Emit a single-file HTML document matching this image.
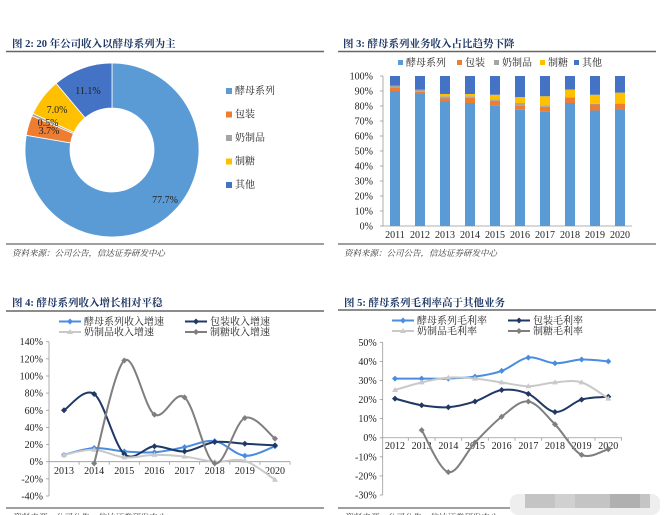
<!DOCTYPE html>
<html><head><meta charset="utf-8">
<style>
html,body{margin:0;padding:0;background:#fff;width:670px;height:515px;overflow:hidden}
svg{display:block;font-family:"Liberation Serif","Noto Serif CJK SC",serif}
</style></head>
<body>
<svg id="s" width="670" height="515" viewBox="0 0 670 515" xmlns="http://www.w3.org/2000/svg">
<g>
<text x="12" y="47" font-size="10.5" font-weight="bold" fill="#1f3864">图 2:  20 年公司收入以酵母系列为主</text>
<line x1="6" y1="51.5" x2="324" y2="51.5" stroke="#666" stroke-width="1.5"/>
<line x1="6" y1="244" x2="324" y2="244" stroke="#666" stroke-width="1.2"/>
<text x="12" y="256" font-size="8.5" font-style="italic" fill="#333">资料来源：公司公告，信达证券研发中心</text>
</g>
<g>
<text x="343" y="47" font-size="10.5" font-weight="bold" fill="#1f3864">图 3:  酵母系列业务收入占比趋势下降</text>
<line x1="338" y1="51.5" x2="656" y2="51.5" stroke="#666" stroke-width="1.5"/>
<line x1="338" y1="244" x2="656" y2="244" stroke="#666" stroke-width="1.2"/>
<text x="344" y="256" font-size="8.5" font-style="italic" fill="#333">资料来源：公司公告，信达证券研发中心</text>
</g>
<g>
<text x="12" y="306" font-size="10.5" font-weight="bold" fill="#1f3864">图 4:  酵母系列收入增长相对平稳</text>
<line x1="6" y1="311" x2="324" y2="311" stroke="#666" stroke-width="1.5"/>
<line x1="6" y1="508" x2="324" y2="508" stroke="#666" stroke-width="1.2"/>
<text x="12" y="520" font-size="8.5" font-style="italic" fill="#333">资料来源：公司公告，信达证券研发中心</text>
</g>
<g>
<text x="344" y="306" font-size="10.5" font-weight="bold" fill="#1f3864">图 5:  酵母系列毛利率高于其他业务</text>
<line x1="338" y1="310" x2="656" y2="310" stroke="#666" stroke-width="1.5"/>
<line x1="338" y1="508" x2="510" y2="508" stroke="#666" stroke-width="1.2"/>
<text x="344" y="520" font-size="8.5" font-style="italic" fill="#333">资料来源：公司公告，信达证券研发中心</text>
</g>
<g>
<rect x="510" y="494" width="150" height="21" rx="8" fill="#eee"/>
<rect x="525" y="494" width="125" height="14" fill="#c4c4c4"/>
<rect x="555" y="494" width="20" height="14" fill="#d0d0d0"/>
<rect x="610" y="494" width="30" height="14" fill="#b0b0b0"/>
</g>
</svg>
<script>
// ---------- data ----------
const pieLabels = ["酵母系列","包装","奶制品","制糖","其他"];
const pieValues = [77.7,3.7,0.5,7.0,11.1];
const colors5 = ["#5b9bd5","#ed7d31","#a5a5a5","#ffc000","#4472c4"];

const barYears = ["2011","2012","2013","2014","2015","2016","2017","2018","2019","2020"];
const barYeast = [90,88,83,82,80.5,77.5,76.5,82,77,77.7];
const barPack  = [2.5,1.5,2,3.5,3,3,3,3.5,4,3.7];
const barDairy = [1,1.5,1.5,1,1,1.5,1,0.5,0.5,0.5];
const barSugar = [0,0,1.5,1.5,3,4,6,5,6,7];
const barOther = [6.5,9,12,12,12.5,14,13.5,9,12.5,11.1];
const barTicks = ["0%","10%","20%","30%","40%","50%","60%","70%","80%","90%","100%"];

const g4Years = ["2013","2014","2015","2016","2017","2018","2019","2020"];
const g4Yeast = [8,16,12,11,17,24,7,18];
const g4Pack  = [60,79,9,18,12,23,21,19];
const g4Dairy = [8,14,5,8,6,0,1,-21];
const g4Sugar = [null,-2,118,55,75,-2,51,27];
const g4Ticks = [-40,-20,0,20,40,60,80,100,120,140];

const g5Years = ["2012","2013","2014","2015","2016","2017","2018","2019","2020"];
const g5Yeast = [31,31,31,32,35,42,39,41,40];
const g5Pack  = [20.5,17,16,19,25,23,13.5,20,21.5];
const g5Dairy = [25,29,31.5,31,29,27,29,29,20.5];
const g5Sugar = [null,4,-18,-2.5,11,19,7,-9,-6];
const g5Ticks = [-30,-20,-10,0,10,20,30,40,50];

// ---------- helpers ----------
const S = document.getElementById('s');
const NS = "http://www.w3.org/2000/svg";
function mk(tag, attrs, parent){
  const e = document.createElementNS(NS, tag);
  for (const k in attrs) e.setAttribute(k, attrs[k]);
  (parent||S).appendChild(e);
  return e;
}
function txt(x,y,s,size,anchor,parent,fill){
  const t = mk('text',{x:x,y:y,'font-size':size,'text-anchor':anchor||'start',fill:fill||'#111'},parent);
  t.textContent = s; return t;
}

// ---------- Fig 2: donut ----------
const pieG = mk('g',{});


const cx=112, cy=150, R=87, r=42;
const total = pieValues.reduce((a,b)=>a+b,0);
let acc=0;
pieValues.forEach((v,i)=>{
  const a0 = acc/total*2*Math.PI, a1=(acc+v)/total*2*Math.PI; acc+=v;
  const p=(a,rad)=>[cx+rad*Math.sin(a), cy-rad*Math.cos(a)];
  const [x0,y0]=p(a0,R),[x1,y1]=p(a1,R),[x2,y2]=p(a1,r),[x3,y3]=p(a0,r);
  const lg = (a1-a0)>Math.PI?1:0;
  const path = mk('path',{d:`M${x0},${y0}A${R},${R} 0 ${lg} 1 ${x1},${y1}L${x2},${y2}A${r},${r} 0 ${lg} 0 ${x3},${y3}Z`,fill:colors5[i],stroke:'#fff','stroke-width':0.8},pieG);
  
  
});
const pieLblPos=[[165,203],[49,134],[48,126],[57,113],[88,94]];
pieValues.forEach((v,i)=>{
  const t = txt(pieLblPos[i][0],pieLblPos[i][1],v.toFixed(1)+'%',10,'middle',pieG,'#222');
  
  
});
pieLabels.forEach((l,i)=>{
  const y=93+i*23.5;
  const lg = mk('g',{},pieG);
  
  
  mk('rect',{x:226,y:y-5,width:6,height:6,fill:colors5[i]},lg);
  txt(235,y+1,l,10,'start',lg,'#222');
});

// ---------- Fig 3: stacked bars ----------
const bG = mk('g',{});


const bx0=383, bx1=632, by0=226, by1=76;
const bY = v => by0 - v/100*(by0-by1);
const bX = i => 395 + i*(620-395)/(barYears.length-1);
mk('line',{x1:bx0,y1:by1,x2:bx0,y2:by0,stroke:'#999','stroke-width':0.8},bG);
mk('line',{x1:bx0,y1:by0,x2:bx1,y2:by0,stroke:'#999','stroke-width':0.8},bG);
barTicks.forEach((t,i)=>{
  const y=bY(i*10);
  mk('line',{x1:bx0-3,y1:y,x2:bx0,y2:y,stroke:'#999','stroke-width':0.8},bG);
  txt(373,y+3.5,t,10,'end',bG,'#222');
});
const series3=[barYeast,barPack,barDairy,barSugar,barOther];
barYears.forEach((yr,i)=>{
  let base=0;
  series3.forEach((s,k)=>{
    const v=s[i]; if(!v){return;}
    const rc = mk('rect',{x:bX(i)-5,y:bY(base+v),width:10,height:bY(base)-bY(base+v),fill:colors5[k]},bG);
    
    
    base+=v;
  });
  const lx = txt(bX(i),238,yr,10,'middle',bG,'#222');
  
  
});
const lg3x=[398,457,494,540,574];
pieLabels.forEach((l,i)=>{
  const g = mk('g',{},bG);
  
  
  mk('rect',{x:lg3x[i],y:60,width:5,height:5,fill:colors5[i]},g);
  txt(lg3x[i]+8,66,l,10,'start',g,'#222');
});

// ---------- line chart helper ----------
function smoothPath(pts){
  let d='';
  for(let i=0;i<pts.length;i++){
    const p=pts[i];
    if(i===0){d+=`M${p[0]},${p[1]}`;continue;}
    const p0=pts[i-2]||pts[i-1], p1=pts[i-1], p3=pts[i+1]||p;
    const c1=[p1[0]+(p[0]-p0[0])/6, p1[1]+(p[1]-p0[1])/6];
    const c2=[p[0]-(p3[0]-p1[0])/6, p[1]-(p3[1]-p1[1])/6];
    d+=`C${c1[0]},${c1[1]} ${c2[0]},${c2[1]} ${p[0]},${p[1]}`;
  }
  return d;
}
const lineColors=["#4a8de0","#1f3864","#c9c9c9","#7f7f7f"];
function lineChart(cfg){
  const g=mk('g',{});
  
  
  const Y=v=>cfg.y0 - (v-cfg.vmin)/(cfg.vmax-cfg.vmin)*(cfg.y0-cfg.y1);
  const X=i=>cfg.xa+i*(cfg.xb-cfg.xa)/(cfg.years.length-1);
  mk('line',{x1:cfg.axX,y1:cfg.y1,x2:cfg.axX,y2:cfg.y0,stroke:'#999','stroke-width':0.8},g);
  mk('line',{x1:cfg.axX,y1:Y(0),x2:cfg.axR,y2:Y(0),stroke:'#999','stroke-width':0.8},g);
  cfg.ticks.forEach(t=>{
    mk('line',{x1:cfg.axX-3,y1:Y(t),x2:cfg.axX,y2:Y(t),stroke:'#999','stroke-width':0.8},g);
    txt(cfg.axX-6,Y(t)+3.5,t+'%',10,'end',g,'#222');
  });
  cfg.years.forEach((yr,i)=>{
    const tx=X(i)+ (cfg.xa-cfg.axX>10?0:0);
    mk('line',{x1:X(i)+(X(1)-X(0))/2,y1:Y(0),x2:X(i)+(X(1)-X(0))/2,y2:Y(0)+3,stroke:'#999','stroke-width':0.8},g);
    txt(tx,cfg.labY,yr,10,'middle',g,'#222');
  });
  cfg.series.forEach((s,k)=>{
    const pts=[];
    s.forEach((v,i)=>{ if(v!==null) pts.push([X(i),Y(v)]); });
    const p=mk('path',{d:smoothPath(pts),fill:'none',stroke:lineColors[k],'stroke-width':2},g);
    
    
    pts.forEach(q=>{
      let m;
      if(k===2) m=mk('path',{d:`M${q[0]},${q[1]-3}L${q[0]+3},${q[1]+2}L${q[0]-3},${q[1]+2}Z`,fill:lineColors[k]},g);
      else m=mk('path',{d:`M${q[0]},${q[1]-3}L${q[0]+3},${q[1]}L${q[0]},${q[1]+3}L${q[0]-3},${q[1]}Z`,fill:lineColors[k]},g);
      
      
    });
  });
  cfg.legend.forEach((l,k)=>{
    const lx=cfg.legX[k%2], ly=cfg.legY[Math.floor(k/2)];
    const lg=mk('g',{},g);
    
    
    mk('line',{x1:lx,y1:ly,x2:lx+22,y2:ly,stroke:lineColors[k],'stroke-width':2},lg);
    if(k===2) mk('path',{d:`M${lx+11},${ly-3}L${lx+14},${ly+2}L${lx+8},${ly+2}Z`,fill:lineColors[k]},lg);
    else mk('path',{d:`M${lx+11},${ly-3}L${lx+14},${ly}L${lx+11},${ly+3}L${lx+8},${ly}Z`,fill:lineColors[k]},lg);
    txt(lx+25,ly+3.5,l,10,'start',lg,'#222');
  });
}
lineChart({name:'fig4-growth-lines',years:g4Years,series:[g4Yeast,g4Pack,g4Dairy,g4Sugar],ticks:g4Ticks,
  vmin:-40,vmax:140,y0:496,y1:341.7,xa:64,xb:275,axX:49,axR:290,labY:474,
  snames:['yeast-growth','packaging-growth','dairy-growth','sugar-growth'],
  legend:['酵母系列收入增速','包装收入增速','奶制品收入增速','制糖收入增速'],legX:[59,185],legY:[321.5,332]});
lineChart({name:'fig5-margin-lines',years:g5Years,series:[g5Yeast,g5Pack,g5Dairy,g5Sugar],ticks:g5Ticks,
  vmin:-30,vmax:50,y0:495,y1:342.3,xa:395,xb:608.3,axX:382.7,axR:622,labY:449,
  snames:['yeast-margin','packaging-margin','dairy-margin','sugar-margin'],
  legend:['酵母系列毛利率','包装毛利率','奶制品毛利率','制糖毛利率'],legX:[392,508],legY:[320.5,331]});
</script>
</body></html>
